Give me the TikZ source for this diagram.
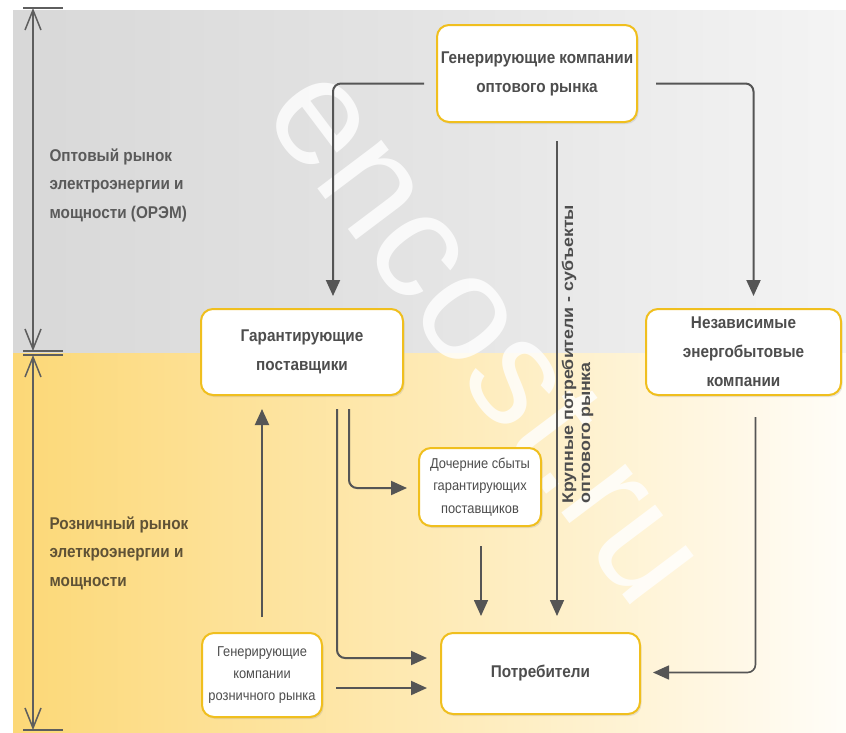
\documentclass[tikz,border=0pt]{standalone}
\usepackage{fontspec}
\setmainfont{Liberation Sans}[FakeStretch=0.9]
\newfontfamily\plainsans{Liberation Sans}
\newfontfamily\rotsans{Liberation Sans}[FakeStretch=1.15]
\usetikzlibrary{arrows.meta,shadows}
\definecolor{linegray}{HTML}{555555}
\definecolor{textgray}{HTML}{4D4D4D}
\definecolor{lbltop}{HTML}{5A5A5A}
\definecolor{lblbot}{HTML}{5F5236}
\definecolor{boxyellow}{HTML}{F0BF1E}
\definecolor{grayL}{HTML}{D8D8D8}
\definecolor{grayM}{HTML}{E4E4E4}
\definecolor{grayR}{HTML}{F4F4F4}
\definecolor{yelL}{HTML}{FCD877}
\definecolor{yelM}{HTML}{FEEAB5}
\definecolor{yelR}{HTML}{FFFDF8}
\definecolor{dimgray}{HTML}{5E5E5E}
\tikzset{
  box/.style={draw=boxyellow, line width=2pt, fill=white, rounded corners=12pt,
    align=center, text=textgray, inner sep=0pt,
    drop shadow={opacity=0.18, shadow xshift=1.5pt, shadow yshift=-2pt}},
  bigtxt/.style={font=\bfseries\fontsize{17}{29}\selectfont},
  smalltxt/.style={font=\fontsize{14.3}{22.3}\selectfont},
  conn/.style={draw=linegray, line width=2pt, rounded corners=8pt,
    -{Triangle[length=16pt,width=14pt]}},
  dimline/.style={draw=dimgray, line width=1.5pt,
    {Straight Barb[length=20pt,width=16pt]}-{Straight Barb[length=20pt,width=16pt]}},
  dimtick/.style={draw=dimgray, line width=2pt},
  sidelbl/.style={anchor=west, align=left, font=\bfseries\fontsize{17}{28.5}\selectfont}
}
\begin{document}
\begin{tikzpicture}[x=1pt,y=-1pt]
\useasboundingbox (0,0) rectangle (846,732);
\fill[white] (0,0) rectangle (846,732);
% bands
\fill[left color=grayL, right color=grayR, middle color=grayM] (13,10) rectangle (846,353);
\fill[left color=yelL, right color=yelR, middle color=yelM] (13,353) rectangle (846,732);
% watermark
\node[text=white, opacity=0.8, rotate=-53, font=\plainsans\fontsize{152}{152}\selectfont] (wm) at (487,334) {encost.ru};
% dimension lines
\coordinate (d1) at (33,8);
\coordinate (d2) at (33,351);
\coordinate (d3) at (33,355);
\coordinate (d4) at (33,730);
\draw[dimline] (d1) -- (d2);
\draw[dimline] (d3) -- (d4);
\draw[dimtick] ([xshift=-10]d1) -- ([xshift=30]d1);
\draw[dimtick] ([xshift=-10]d2) -- ([xshift=30]d2);
\draw[dimtick] ([xshift=-10]d3) -- ([xshift=30]d3);
\draw[dimtick] ([xshift=-10]d4) -- ([xshift=30]d4);
% side labels
\node[sidelbl, text=lbltop] (lab1) at (46,185) {Оптовый рынок\\электроэнергии и\\мощности (ОРЭМ)};
\node[sidelbl, text=lblbot] (lab2) at (46,553) {Розничный рынок\\элеткроэнергии и\\мощности};
% nodes
\node[box, bigtxt, minimum width=200, minimum height=97] (top) at (537,73.5) {Генерирующие компании\\оптового рынка};
\node[box, bigtxt, minimum width=202, minimum height=86] (gp) at (302,352) {Гарантирующие\\поставщики};
\node[box, bigtxt, minimum width=195, minimum height=86] (nez) at (743.5,352) {Независимые\\энергобытовые\\компании};
\node[box, smalltxt, minimum width=122, minimum height=78] (doch) at (480,487) {Дочерние сбыты\\гарантирующих\\поставщиков};
\node[box, bigtxt, minimum width=199, minimum height=81] (potr) at (540.5,673.5) {Потребители};
\node[box, smalltxt, minimum width=120, minimum height=84] (genr) at (262,675) {Генерирующие\\компании\\розничного рынка};
% connectors
\draw[conn] ([shift={(-12,10)}]top.west) -| ([shift={(31,-12)}]gp.north);
\draw[conn] ([shift={(18,10)}]top.east) -| ([shift={(10,-12)}]nez.north);
\draw[conn, line width=1.6pt] ([shift={(20,18)}]top.south) -- ([shift={(16.5,-16)}]potr.north)
  node[pos=0.765, anchor=north west, rotate=90, inner sep=0pt, yshift=-4pt, align=left, text=textgray,
       font=\rotsans\bfseries\fontsize{15.5}{17}\selectfont] (krup) {Крупные потребители - субъекты\\оптового рынка};
\draw[conn] ([shift={(0,-15)}]genr.north) -- ([shift={(-40,13)}]gp.south);
\draw[conn] ([shift={(35,13)}]gp.south) |- ([shift={(-13,-15.5)}]potr.west);
\draw[conn] ([shift={(47,13)}]gp.south) |- ([shift={(-11,1)}]doch.west);
\draw[conn] ([shift={(13,13)}]genr.east) -- ([shift={(-13,14.5)}]potr.west);
\draw[conn, line width=1.6pt] ([shift={(1,19)}]doch.south) -- ([shift={(-59.5,-16)}]potr.north);
\draw[conn, line width=1.6pt] ([shift={(12,21)}]nez.south) |- ([shift={(12,-1)}]potr.east);
\end{tikzpicture}
\end{document}
